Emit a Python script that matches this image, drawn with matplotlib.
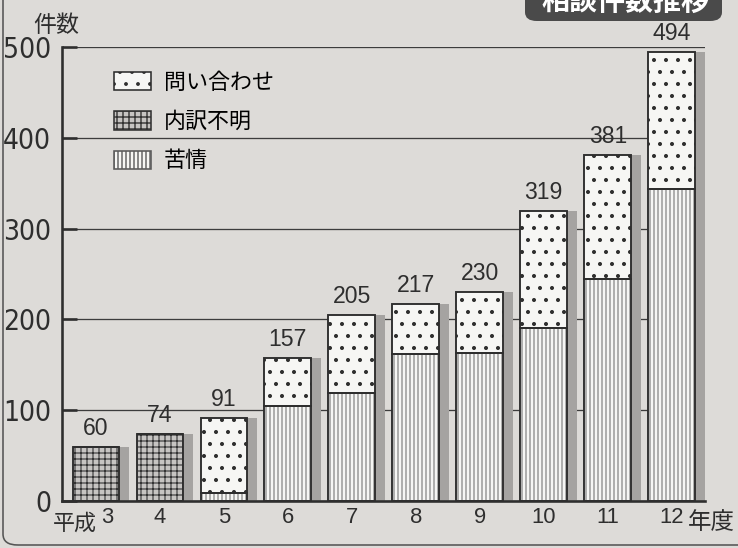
import os
import matplotlib
matplotlib.use("Agg")
import matplotlib.pyplot as plt
from matplotlib import font_manager as fm
from matplotlib.patches import FancyBboxPatch, Patch
from matplotlib.transforms import ScaledTranslation
import numpy as np

# data (平成 year, counts)
years = ["3", "4", "5", "6", "7", "8", "9", "10", "11", "12"]
totals = [60, 74, 91, 157, 205, 217, 230, 319, 381, 494]
kujo = [0, 0, 9, 105, 119, 162, 163, 191, 245, 344]          # 苦情
fumei = [60, 74, 0, 0, 0, 0, 0, 0, 0, 0]                      # 内訳不明
toiawase = [t - k - f for t, k, f in zip(totals, kujo, fumei)]  # 問い合わせ
yticks = [0, 100, 200, 300, 400, 500]

# dpi 72 -> 1pt == 1px, sizes below are pixels
plt.rcParams["font.family"] = ["Liberation Sans", "Noto Sans CJK JP", "DejaVu Sans"]
plt.rcParams["hatch.linewidth"] = 0.9

# a narrow face for the y tick numbers, if one is installed
narrow = None
for name in ("LiberationSansNarrow-Regular.ttf", "DejaVuSansCondensed.ttf"):
    hits = [f.fname for f in fm.fontManager.ttflist if os.path.basename(f.fname) == name]
    if hits:
        narrow = hits[0]
        break
if narrow:
    ytick_font = fm.FontProperties(fname=narrow, size=28)
else:
    ytick_font = fm.FontProperties(family="Liberation Sans", size=26)

paper = "#dddbd8"
ink = "#2e2e2e"

fig = plt.figure(figsize=(738 / 72, 548 / 72), dpi=72, facecolor=paper)
ax = fig.add_axes([62 / 738, 47 / 548, 643 / 738, 454 / 548])
ax.set_facecolor("none")

x = np.arange(len(years))
w = 0.73

# drop shadows
ax.bar(x + 0.16, totals, w, color="#a5a3a1", zorder=1, linewidth=0)

# hatch width is taken per bar call (mpl 3.10)
plt.rcParams["hatch.linewidth"] = 0.9
ax.bar(x, kujo, w, facecolor="#f6f6f4", edgecolor="#5a5a5a", hatch="|||",
       linewidth=0, zorder=2)
plt.rcParams["hatch.linewidth"] = 1.1
ax.bar(x, fumei, w, bottom=kujo, facecolor="#c6c4c2", edgecolor="#333333",
       hatch="++", linewidth=0, zorder=2)
bottom2 = [k + f for k, f in zip(kujo, fumei)]
plt.rcParams["hatch.linewidth"] = 1.6
ax.bar(x, toiawase, w, bottom=bottom2, facecolor="#f6f6f4", edgecolor=ink,
       hatch=".", linewidth=0, zorder=2)

# outlines of each segment
for seg, bot in ((kujo, [0] * len(x)), (fumei, kujo), (toiawase, bottom2)):
    ax.bar(x, seg, w, bottom=bot, fill=False, edgecolor=ink, linewidth=1.9, zorder=3)

for xi, t in zip(x, totals):
    ax.annotate(str(t), (xi, t), xytext=(0, 7), textcoords="offset points",
                ha="center", va="bottom", fontsize=23, color=ink)

ax.set_ylim(0, 500)
ax.set_xlim(-0.53, 9.52)
ax.set_yticks(yticks)
ax.set_yticklabels([str(v) for v in yticks], fontproperties=ytick_font)
ax.yaxis.grid(True, color="#3c3c3c", linewidth=1.3)
ax.set_axisbelow(True)
ax.tick_params(axis="y", direction="in", length=15, width=2.6, color=ink, pad=11,
               labelcolor=ink)
ax.set_xticks(x)
ax.set_xticklabels(years, fontsize=22, color=ink)
ax.tick_params(axis="x", length=0, pad=6)
first = ax.get_xticklabels()[0]
first.set_transform(first.get_transform() + ScaledTranslation(11 / 72, 0, fig.dpi_scale_trans))
for s in ("top", "right"):
    ax.spines[s].set_visible(False)
for s in ("left", "bottom"):
    ax.spines[s].set_linewidth(2.6)
    ax.spines[s].set_color(ink)

fig.text(33 / 738, 1 - 25 / 548, "件数", fontsize=23, color=ink, va="center")
fig.text(97 / 738, 1 - 524 / 548, "平成", fontsize=22, color=ink, va="center", ha="right")
fig.text(688 / 738, 1 - 523 / 548, "年度", fontsize=23.5, color=ink, va="center")

plt.rcParams["hatch.linewidth"] = 1.4
handles = [Patch(facecolor="#f6f6f4", edgecolor=ink, hatch=".", linewidth=1.6),
           Patch(facecolor="#c6c4c2", edgecolor="#333333", hatch="++", linewidth=1.6),
           Patch(facecolor="#f6f6f4", edgecolor="#5a5a5a", hatch="|||", linewidth=1.6)]
ax.legend(handles, ["問い合わせ", "内訳不明", "苦情"], loc="upper left",
          bbox_to_anchor=(52 / 643, (501 - 72) / 454), frameon=False, fontsize=22,
          borderaxespad=0, borderpad=0,
          handlelength=1.7, handleheight=0.9, labelspacing=0.8, handletextpad=0.55)
plt.rcParams["hatch.linewidth"] = 0.9

# title tab
tab = FancyBboxPatch((525 / 738, 1 - 21 / 548), 197 / 738, 45 / 548,
                     boxstyle="round,pad=0,rounding_size=0.016",
                     transform=fig.transFigure, facecolor="#4a4a4a",
                     edgecolor="none", zorder=5)
fig.patches.append(tab)
fig.text(625 / 738, 1 - 2 / 548, "相談件数推移", fontsize=28, color="white",
         weight="bold", ha="center", va="center", zorder=6)

# outer frame
frame = FancyBboxPatch((3 / 738, 3 / 548), 1.2, 1.2,
                       boxstyle="round,pad=0,rounding_size=0.02",
                       transform=fig.transFigure, facecolor="none",
                       edgecolor="#555555", linewidth=1.6)
fig.patches.append(frame)

fig.savefig("out.png", dpi=72, facecolor=paper)
